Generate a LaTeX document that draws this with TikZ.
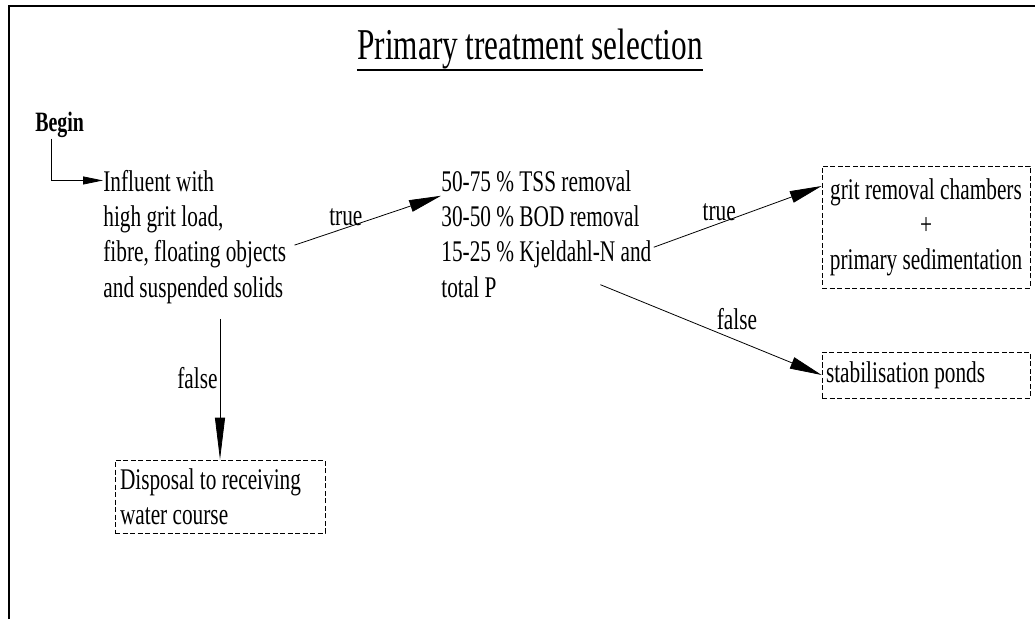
\documentclass[tikz,border=0pt]{standalone}
\usepackage{fontspec}
\setmainfont{Liberation Serif}[FakeStretch=0.71]
\usepackage{tikz}
\usetikzlibrary{arrows.meta}
\usetikzlibrary{calc}
\tikzset{>={Latex}}

\begin{document}
\begin{tikzpicture}[x=1pt, y=1pt, line width=0.8pt, font=\fontsize{30}{35}\selectfont]

  \tikzset{txt/.style={align=left, inner sep=0pt},
           outbox/.style={draw, dash pattern=on 5pt off 2.5pt, line width=0.7pt,
                          minimum width=208pt, inner sep=4pt},
           flow/.style={->, >={Triangle[length=32pt, width=12pt]}},
           lbl/.style={inner sep=2pt}}

  \useasboundingbox (0,0) rectangle (1035,619);
  \draw[line width=1.3pt] (9,0) -- (9,613) -- (1035,613);

  % heading
  \node[anchor=base, inner sep=0pt, font=\fontsize{44}{50}\selectfont] (title) at (530,559)
    {Primary treatment selection};
  \draw[line width=1.5pt] ([yshift=-10pt]title.base west) -- ([yshift=-10pt]title.base east);

  \node[anchor=base west, inner sep=0pt, font=\fontsize{28}{32}\selectfont\bfseries] (begin) at (35,487) {Begin};

  % the two conditions (base = last line)
  \node[txt, anchor=base west] (infl) at (103,322)
    {Influent with\\high grit load,\\fibre, floating objects\\and suspended solids};
  \node[txt, anchor=base west] (rem) at (441,322)
    {50-75 \% TSS removal\\30-50 \% BOD removal\\15-25 \% Kjeldahl-N and\\total P};

  % outcomes
  \node[outbox, align=center, minimum height=122pt] (grit) at (926,392)
    {grit removal chambers\\+\\primary sedimentation};
  \node[outbox, text width=200pt, align=flush left, minimum height=46pt] (stab) at (926,244)
    {stabilisation ponds};
  \node[outbox, text width=200pt, align=flush left, inner xsep=5pt, minimum height=73pt] (disp) at (220,122.5)
    {Disposal to receiving\\water course};

  % connectors
  \draw[->, >={Triangle[length=20pt, width=8pt]}] ([xshift=-8pt]begin.south) |- ([yshift=-10pt]infl.north west);
  \draw[flow] ([shift={(8pt,-8pt)}]infl.east) -- node[lbl, pos=0.35, above] {true} ([yshift=-25pt]rem.north west);
  \draw[flow] ([shift={(2pt,-13pt)}]rem.east) -- node[lbl, pos=0.39, above] {true} ([yshift=41pt]grit.west);
  \draw[flow] ([shift={(54pt,13pt)}]rem.south) -- node[pos=0.52, anchor=south west, inner sep=1pt] {false} (stab.west);
  \draw[flow, >={Triangle[length=42pt, width=10pt]}] ($(disp.north |- infl.south)+(0,-15)$) -- node[lbl, pos=0.42, left] {false} (disp.north);

\end{tikzpicture}
\end{document}
